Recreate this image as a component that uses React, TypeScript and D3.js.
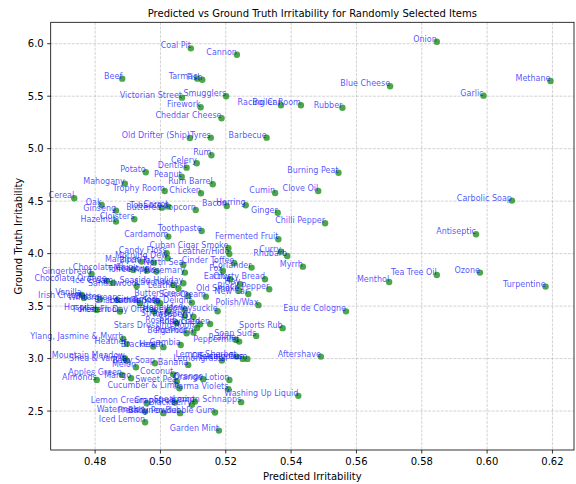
import React from 'react';
import * as d3 from 'd3';

// smells / items and their scores
const names = [
  'Coal Pit', 'Cannon', 'Onion', 'Beef', 'Tarmac', 'Fish', 'Methane', 'Blue Cheese', 'Garlic', 'Victorian Street',
  'Smugglers', 'Firework', 'Racing Car', 'Boiler Room', 'Rubber', 'Cheddar Cheese', 'Old Drifter (Ship)', 'Tyres', 'Barbecue', 'Rum',
  'Celery', 'Dentist', 'Burning Peat', 'Potato', 'Peanut', 'Mahogany', 'Rum Barrel', 'Trophy Room', 'Chicken', 'Cumin',
  'Clove Oil', 'Cereal', 'Carbolic Soap', 'Oak', 'Tobacco', 'Carrot', 'Bacon', 'Herring', 'Ginseng', 'Buttered Popcorn',
  'Ginger', 'Cloisters', 'Hazelnut', 'Chilli Pepper', 'Toothpaste', 'Cardamom', 'Fermented Fruit', 'Antiseptic', 'Curry', 'Rhubarb',
  'Myrrh', 'Tea Tree Oil', 'Ozone', 'Turpentine', 'Menthol', 'Eau de Cologne', 'Sports Rub', 'Soap Suds', 'Aftershave', 'Washing Up Liquid',
  'Garden Mint', 'Bubble Gum', 'Lemon Schnapps', 'Iced Lemon', 'Watermelon', 'Lemon Cream', 'Grapefruit', 'Spearmint', 'Blackberry', 'Fresh Linen',
  'Baby Powder', 'Cucumber & Lime', 'Parma Violets', 'Orange', 'Orange Lotion', 'Almonds', 'Apples Green', 'Mango', 'Sweet Pea', 'Coconut',
  'Melon', 'Banana', 'Gambia', 'Bracken', 'Ylang, Jasmine & Myrrh', 'Heather', 'Candy Floss', 'Morning Dew', 'Marzipan', 'Birch Tar',
  'North Sea', 'Cuban Cigar Smoke', 'Leather/Hide', 'Cinder Toffee', 'Coriander', 'Fox', 'Chocolate Chip', 'Meadow', 'Toffee Apple', 'Rosemary',
  'Gingerbread', 'Chocolate Orange', 'Ice Cream', 'Sandalwood', 'Earthy', 'Crusty Bread', 'Seaside Holiday', 'Lavender', 'Leather', 'Hay',
  'Black Pepper', 'Old Smoke', 'New Car', 'Vanilla', 'Irish Cream', 'Butter Cream', 'Sour Cream', 'Butter', 'Wintergreen', 'Chamomile',
  'Cinnamon', 'Leather Sofa', 'Turkish Delight', 'Polish/Wax', 'Honeysuckle', 'Hospital', 'Forest Floor', 'Modern Day Office', 'Honey', 'Honeydew',
  'Strawberry', 'Raspberry', 'Rosehip', 'Lychee', 'Stars Dressing Room', 'Rose Garden', 'Bergamot', 'Pot Pourri', 'Peppermint', 'Praline',
  'Heath', 'Lemon Sherbet', 'Eucalyptus', 'Chewing Gum', 'Lemongrass', 'Baby Soap', 'Mountain Meadow', 'Shea & Vanilla',
];

const predicted = [
  0.5093, 0.5234, 0.5846, 0.4883, 0.5113, 0.5128, 0.6194, 0.5703, 0.5989, 0.5066,
  0.5201, 0.5123, 0.5369, 0.5430, 0.5557, 0.5187, 0.5090, 0.5154, 0.5325, 0.5156,
  0.5111, 0.5080, 0.5545, 0.4955, 0.5065, 0.4891, 0.5160, 0.5013, 0.5124, 0.5351,
  0.5483, 0.4736, 0.6076, 0.4820, 0.5004, 0.5024, 0.5203, 0.5261, 0.4864, 0.5108,
  0.5359, 0.4920, 0.4864, 0.5504, 0.5126, 0.5024, 0.5361, 0.5966, 0.5369, 0.5388,
  0.5436, 0.5846, 0.5978, 0.6179, 0.5700, 0.5568, 0.5374, 0.5293, 0.5491, 0.5422,
  0.5179, 0.5167, 0.5247, 0.4953, 0.4953, 0.4958, 0.5044, 0.5106, 0.5096, 0.5009,
  0.5060, 0.5058, 0.5208, 0.5131, 0.5211, 0.4805, 0.4882, 0.4910, 0.5050, 0.5039,
  0.4925, 0.5085, 0.5062, 0.4978, 0.4886, 0.4897, 0.5019, 0.5022, 0.4942, 0.4980,
  0.5070, 0.5208, 0.5211, 0.5226, 0.5279, 0.5191, 0.4917, 0.4958, 0.4988, 0.5075,
  0.4789, 0.4835, 0.4855, 0.4927, 0.5213, 0.5320, 0.5070, 0.5039, 0.5055, 0.5244,
  0.5333, 0.5241, 0.5269, 0.4759, 0.4766, 0.5085, 0.5139, 0.4815, 0.4868, 0.4937,
  0.4988, 0.4999, 0.5096, 0.5300, 0.5175, 0.4805, 0.4876, 0.4980, 0.5024, 0.5075,
  0.5075, 0.5101, 0.5050, 0.5121, 0.5112, 0.5152, 0.5080, 0.5101, 0.5241, 0.5231,
  0.5009, 0.5233, 0.5252, 0.5266, 0.5188, 0.4983, 0.4891, 0.4897,
];

const truth = [
  5.956, 5.895, 6.019, 5.667, 5.667, 5.657, 5.645, 5.594, 5.505, 5.486,
  5.499, 5.395, 5.413, 5.413, 5.390, 5.290, 5.102, 5.105, 5.105, 4.937,
  4.861, 4.819, 4.771, 4.775, 4.733, 4.667, 4.661, 4.597, 4.575, 4.578,
  4.597, 4.528, 4.505, 4.464, 4.438, 4.448, 4.454, 4.461, 4.410, 4.416,
  4.390, 4.328, 4.305, 4.290, 4.216, 4.162, 4.137, 4.185, 4.019, 3.978,
  3.876, 3.797, 3.819, 3.686, 3.730, 3.450, 3.290, 3.216, 3.019, 2.645,
  2.314, 2.486, 2.585, 2.394, 2.495, 2.575, 2.581, 2.590, 2.559, 2.480,
  2.480, 2.718, 2.709, 2.804, 2.797, 2.797, 2.845, 2.813, 2.781, 2.850,
  2.918, 2.940, 3.130, 3.114, 3.188, 3.140, 4.004, 3.956, 3.924, 3.914,
  3.892, 4.051, 3.997, 3.909, 3.867, 3.835, 3.845, 3.838, 3.829, 3.819,
  3.807, 3.740, 3.721, 3.692, 3.756, 3.756, 3.718, 3.702, 3.670, 3.709,
  3.661, 3.648, 3.616, 3.607, 3.578, 3.597, 3.590, 3.566, 3.559, 3.528,
  3.543, 3.528, 3.533, 3.509, 3.451, 3.464, 3.448, 3.448, 3.448, 3.465,
  3.407, 3.400, 3.337, 3.326, 3.292, 3.330, 3.242, 3.248, 3.162, 3.178,
  3.109, 3.019, 2.997, 2.997, 2.981, 2.956, 3.004, 2.981,
];

const xTicks = [0.48, 0.5, 0.52, 0.54, 0.56, 0.58, 0.6, 0.62];
const yTicks = [2.5, 3.0, 3.5, 4.0, 4.5, 5.0, 5.5, 6.0];

const W = 576;
const H = 484;
const margin = { top: 22.3, right: 2, bottom: 34, left: 50.7 };
const font = 'DejaVu Sans, sans-serif';

export default function App() {
  const innerW = W - margin.left - margin.right;
  const innerH = H - margin.top - margin.bottom;

  const x = d3.scaleLinear().domain([0.4664, 0.6266]).range([0, innerW]);
  const y = d3.scaleLinear().domain([2.129, 6.204]).range([innerH, 0]);

  const pts = names.map((n, i) => ({ name: n, px: predicted[i], gt: truth[i] }));

  return (
    <svg width={W} height={H} style={{ position: 'absolute', left: 0, top: 0, background: '#fff' }} fontFamily={font}>
      <text x={margin.left + innerW / 2} y={17} textAnchor="middle" fontSize={10} fill="#000">
        Predicted vs Ground Truth Irritability for Randomly Selected Items
      </text>
      <g transform={`translate(${margin.left},${margin.top})`}>
        {/* grid */}
        {xTicks.map(t => (
          <line key={'gx' + t} x1={x(t)} x2={x(t)} y1={0} y2={innerH} stroke="#b0b0b0" strokeOpacity={0.7} strokeWidth={0.8} strokeDasharray="2.96,1.28" />
        ))}
        {yTicks.map(t => (
          <line key={'gy' + t} x1={0} x2={innerW} y1={y(t)} y2={y(t)} stroke="#b0b0b0" strokeOpacity={0.7} strokeWidth={0.8} strokeDasharray="2.96,1.28" />
        ))}

        {pts.map((d, i) => (
          <circle key={'p' + i} cx={x(d.px)} cy={y(d.gt)} r={3.2} fill="green" fillOpacity={0.7} />
        ))}
        {pts.map((d, i) => (
          <text key={'t' + i} x={x(d.px)} y={y(d.gt)} textAnchor="end" fontSize={8} fill="blue" fillOpacity={0.7}>
            {d.name}
          </text>
        ))}

        {/* frame */}
        <rect x={0} y={0} width={innerW} height={innerH} fill="none" stroke="#000" strokeWidth={0.8} />

        {/* x axis */}
        {xTicks.map(t => (
          <g key={'xt' + t} transform={`translate(${x(t)},${innerH})`}>
            <line y2={3.5} stroke="#000" strokeWidth={0.8} />
            <text y={7} dy="0.76em" textAnchor="middle" fontSize={10} fill="#000">{d3.format('.2f')(t)}</text>
          </g>
        ))}
        {/* y axis */}
        {yTicks.map(t => (
          <g key={'yt' + t} transform={`translate(0,${y(t)})`}>
            <line x2={-3.5} stroke="#000" strokeWidth={0.8} />
            <text x={-7} dy="0.35em" textAnchor="end" fontSize={10} fill="#000">{d3.format('.1f')(t)}</text>
          </g>
        ))}
        <text x={innerW / 2} y={innerH + 30} textAnchor="middle" fontSize={10} fill="#000">Predicted Irritability</text>
        <text transform={`translate(${-29},${innerH / 2}) rotate(-90)`} textAnchor="middle" fontSize={10} fill="#000">Ground Truth Irritability</text>
      </g>
    </svg>
  );
}
